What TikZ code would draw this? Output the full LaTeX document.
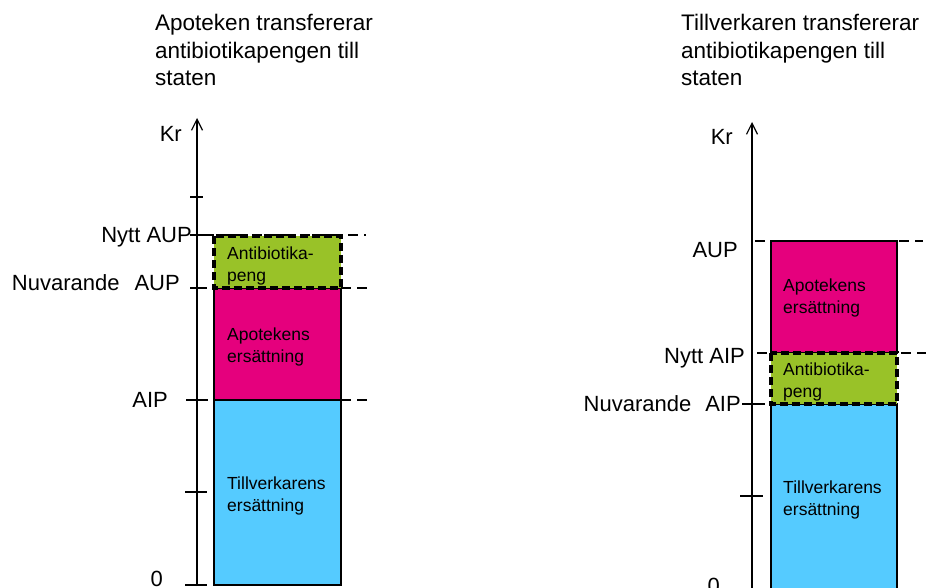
\documentclass[tikz,border=0pt]{standalone}
\usepackage{fontspec}
\setmainfont{Liberation Sans}
\usetikzlibrary{arrows.meta}
\definecolor{pengGreen}{RGB}{153,194,40}
\definecolor{apoPink}{RGB}{229,0,125}
\definecolor{tvBlue}{RGB}{85,203,255}
\tikzset{
  titletext/.style={anchor=north west,inner sep=0pt,align=left,font=\fontsize{22.5}{27.5}\selectfont},
  axlabel/.style={anchor=base east,inner sep=0pt,font=\fontsize{22}{26}\selectfont},
  boxtext/.style={anchor=north west,inner sep=0pt,align=left,font=\fontsize{17.5}{22}\selectfont},
  axisline/.style={line width=1.2pt,-{Straight Barb[length=11pt,width=11pt,line width=1.2pt]}},
  tickline/.style={line width=1.2pt},
  guide/.style={line width=1.2pt,dash pattern=on 10pt off 6pt},
  solidbox/.style={draw=black,line width=1.2pt},
  pengbox/.style={fill=pengGreen,draw=black,line width=3.8pt,dash pattern=on 8pt off 4pt},
}
\begin{document}
\begin{tikzpicture}[x=1pt,y=-1pt]
\useasboundingbox (0,0) rectangle (926,588);
\clip (0,0) rectangle (926,588);
% ---------- titles
\node[titletext] (titleL) at (155,14) {Apoteken transfererar\\antibiotikapengen till\\staten};
\node[titletext] (titleR) at (681,14) {Tillverkaren transfererar\\antibiotikapengen till\\staten};
% ---------- left panel
\coordinate (LaxB) at (197,586);
\coordinate (LaxT) at (197,118);
\coordinate (LgA1) at (204,235); \coordinate (LgA2) at (366,235);
\coordinate (LgB1) at (197,288); \coordinate (LgB2) at (368,288);
\coordinate (LgC1) at (197,400); \coordinate (LgC2) at (370,400);
\draw[guide] (LgA1) -- (LgA2);
\draw[guide] (LgB1) -- (LgB2);
\draw[guide] (LgC1) -- (LgC2);
\draw[solidbox,fill=tvBlue] (214,400) rectangle (341,585);
\draw[solidbox,fill=apoPink] (214,288) rectangle (341,400);
\draw[pengbox] (214,236) rectangle (341,288);
\draw[axisline] (LaxB) -- (LaxT);
\coordinate (Lt1a) at (190,197); \coordinate (Lt1b) at (203,197);
\coordinate (Lt2a) at (190,235); \coordinate (Lt2b) at (204,235);
\coordinate (Lt3a) at (190,288); \coordinate (Lt3b) at (204,288);
\coordinate (Lt4a) at (186,400); \coordinate (Lt4b) at (208,400);
\coordinate (Lt5a) at (185,492); \coordinate (Lt5b) at (207,492);
\coordinate (Lt6a) at (185,585); \coordinate (Lt6b) at (207,585);
\foreach \t in {1,...,6} {\draw[tickline] (Lt\t a) -- (Lt\t b);}
\node[axlabel] (LKr) at (182,142) {Kr};
\node[axlabel] (LNyttAUP) at (192,242) {Nytt AUP};
\node[axlabel] (LNuvAUP) at (180,290) {Nuvarande\hspace{15pt}AUP};
\node[axlabel] (LAIP) at (168,407) {AIP};
\node[axlabel] (LZero) at (163,586.5) {0};
\node[boxtext] (LpengT) at (227,246.3) {Antibiotika-\\peng};
\node[boxtext] (LapoT) at (227,327.8) {Apotekens\\ersättning};
\node[boxtext] (LtvT) at (227,476.8) {Tillverkarens\\ersättning};
% ---------- right panel
\coordinate (RaxB) at (752,600);
\coordinate (RaxT) at (752,122);
\coordinate (RgA1) at (755,241); \coordinate (RgA2) at (923,241);
\coordinate (RgB1) at (757,353); \coordinate (RgB2) at (930,353);
\draw[guide] (RgA1) -- (RgA2);
\draw[guide] (RgB1) -- (RgB2);
\draw[solidbox,fill=tvBlue] (771,404) rectangle (897,600);
\draw[solidbox,fill=apoPink] (771,241) rectangle (897,353);
\draw[pengbox] (771,353) rectangle (897,404);
\draw[axisline] (RaxB) -- (RaxT);
\coordinate (Rt1a) at (742,404); \coordinate (Rt1b) at (765,404);
\coordinate (Rt2a) at (740,496); \coordinate (Rt2b) at (763,496);
\foreach \t in {1,2} {\draw[tickline] (Rt\t a) -- (Rt\t b);}
\node[axlabel] (RKr) at (733,145) {Kr};
\node[axlabel] (RAUP) at (738,257) {AUP};
\node[axlabel] (RNyttAIP) at (745,363) {Nytt AIP};
\node[axlabel] (RNuvAIP) at (741,411) {Nuvarande\hspace{14pt}AIP};
\node[axlabel] (RZero) at (720,593) {0};
\node[boxtext] (RapoT) at (783,278.8) {Apotekens\\ersättning};
\node[boxtext] (RpengT) at (783,362.3) {Antibiotika-\\peng};
\node[boxtext] (RtvT) at (783,480.3) {Tillverkarens\\ersättning};
\end{tikzpicture}
\end{document}
